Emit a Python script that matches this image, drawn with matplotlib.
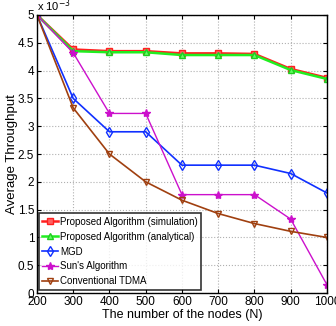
import matplotlib
matplotlib.use("Agg")
import matplotlib.pyplot as plt

plt.rcParams['font.family'] = ['Liberation Sans', 'DejaVu Sans']

nodes = [200, 300, 400, 500, 600, 700, 800, 900, 1000]
sim = [5.0, 4.38, 4.35, 4.35, 4.31, 4.31, 4.30, 4.03, 3.87]
ana = [5.0, 4.35, 4.33, 4.33, 4.28, 4.28, 4.28, 4.01, 3.85]
mgd = [5.0, 3.50, 2.90, 2.90, 2.30, 2.30, 2.30, 2.15, 1.80]
sun = [5.0, 4.32, 3.23, 3.23, 1.77, 1.77, 1.77, 1.33, 0.15]
tdma = [5.0, 3.33, 2.50, 2.00, 1.67, 1.43, 1.25, 1.11, 1.00]

labels = ["Proposed Algorithm (simulation)", "Proposed Algorithm (analytical)",
          "MGD", "Sun's Algorithm", "Conventional TDMA"]

fig = plt.figure(figsize=(3.36, 3.26), dpi=100)
ax = fig.add_axes([0.110, 0.101, 0.863, 0.853])

ax.plot(nodes, sim, color='#ff2020', marker='s', ms=4, lw=1.8, mfc='#ff6060', mec='#ff2020', label=labels[0])
ax.plot(nodes, ana, color='#20ee20', marker='^', ms=5, lw=1.8, mfc='#60ff60', mec='#20cc20', label=labels[1])
ax.plot(nodes, mgd, color='#1030ff', marker='d', ms=5, lw=1.2, mfc='none', mec='#1030ff', label=labels[2])
ax.plot(nodes, sun, color='#cc10cc', marker='*', ms=6, lw=1.0, mfc='#cc10cc', mec='#cc10cc', label=labels[3])
ax.plot(nodes, tdma, color='#a04010', marker='v', ms=5, lw=1.2, mfc='none', mec='#a04010', label=labels[4])

ax.set_xlim(200, 1000)
ax.set_ylim(0, 5)
ax.set_xticks(nodes)
ax.set_yticks([0, 0.5, 1, 1.5, 2, 2.5, 3, 3.5, 4, 4.5, 5])
ax.set_yticklabels(['0', '0.5', '1', '1.5', '2', '2.5', '3', '3.5', '4', '4.5', '5'])
ax.tick_params(direction='in', labelsize=8.5, length=3, top=True, right=True, pad=2)
ax.grid(True, linestyle=':', color='#b0b0b0', lw=0.8)
for s in ax.spines.values():
    s.set_linewidth(1.0)

ax.set_xlabel("The number of the nodes (N)", fontsize=9, labelpad=1)
ax.set_ylabel("Average Throughput", fontsize=9.5, labelpad=0)
ax.text(0.0, 1.005, r"x 10$^{-3}$", transform=ax.transAxes, fontsize=8, va='bottom', ha='left')

leg = ax.legend(loc='lower left', fontsize=7.0, frameon=True, fancybox=False,
                edgecolor='black', borderaxespad=0.2, handlelength=1.6,
                handletextpad=0.2, labelspacing=0.5, borderpad=0.35,
                bbox_to_anchor=(0.0, 0.005))
leg.get_frame().set_linewidth(1.2)

fig.savefig("out.png", dpi=100)
